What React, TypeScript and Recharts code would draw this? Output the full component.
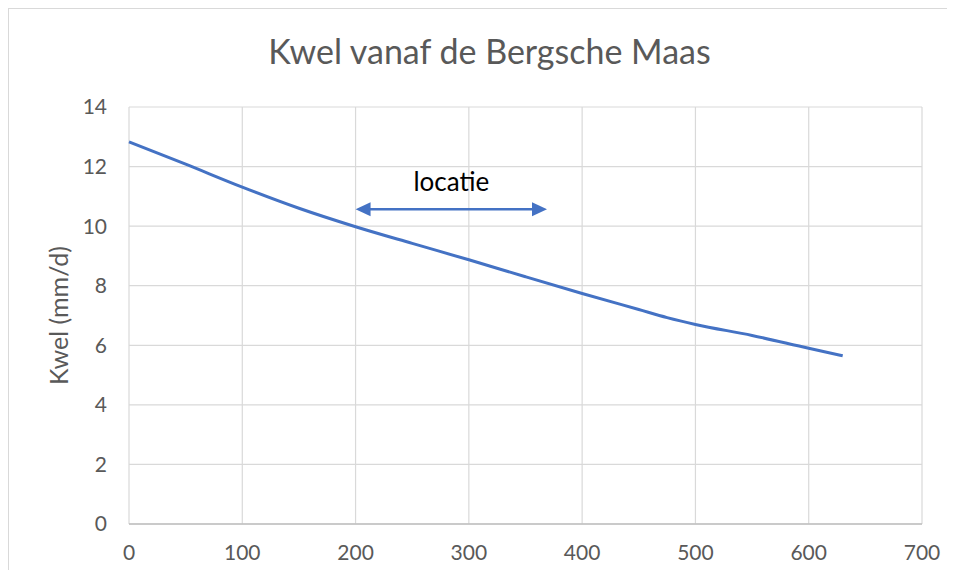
import { CartesianGrid, Line, LineChart, ReferenceLine, XAxis, YAxis } from "recharts";

// afstand vanaf de Bergsche Maas (m) en kwel (mm/d)
const distance = [0, 50, 100, 150, 200, 250, 300, 350, 400, 450, 475, 500, 550, 600, 630];
const seepage = [12.83, 12.08, 11.31, 10.6, 9.98, 9.42, 8.87, 8.3, 7.74, 7.2, 6.93, 6.7, 6.33, 5.9, 5.65];

const xTicks = [0, 100, 200, 300, 400, 500, 600, 700];
const yTicks = [0, 2, 4, 6, 8, 10, 12, 14];

const arrowFrom = 200;
const arrowTo = 369;
const arrowLevel = 10.57;

const data = distance.map((x, i) => ({ x, kwel: seepage[i] }));

const BLUE = "#4472C4";
const FONT = "Lato, 'Open Sans', sans-serif";
const tickStyle = { fontSize: 21, fill: "#595959", fontFamily: FONT };

function LocationArrow(props: any) {
  const { x1, y1, x2 } = props;
  const head = 15;
  const half = 7;
  return (
    <g>
      <line x1={x1 + head - 2} y1={y1} x2={x2 - head + 2} y2={y1} stroke={BLUE} strokeWidth={2.5} />
      <polygon points={`${x1},${y1} ${x1 + head},${y1 - half} ${x1 + head},${y1 + half}`} fill={BLUE} />
      <polygon points={`${x2},${y1} ${x2 - head},${y1 - half} ${x2 - head},${y1 + half}`} fill={BLUE} />
      <text
        x={(x1 + x2) / 2}
        y={y1 - 18}
        textAnchor="middle"
        fontSize={26}
        fontFamily={FONT}
        fill="#000"
      >
        locatie
      </text>
    </g>
  );
}

function YLabel(props: any) {
  const { viewBox } = props;
  const cx = viewBox.x + 50;
  const cy = viewBox.y + viewBox.height / 2;
  return (
    <text
      x={cx}
      y={cy}
      transform={`rotate(-90, ${cx}, ${cy})`}
      textAnchor="middle"
      dominantBaseline="central"
      fontSize={25}
      fontFamily={FONT}
      fill="#595959"
    >
      Kwel (mm/d)
    </text>
  );
}

export default function App() {
  return (
    <div style={{ position: "relative", width: 947, height: 562 }}>
      <div
        style={{
          position: "absolute",
          left: -1,
          top: -1,
          right: 0,
          bottom: 0,
          borderLeft: "2px solid #d9d9d9",
          borderTop: "2px solid #d9d9d9",
        }}
      />
      <div
        style={{
          position: "absolute",
          top: 22,
          left: 0,
          width: 947,
          textAlign: "center",
          fontFamily: FONT,
          fontSize: 34,
          color: "#595959",
          transform: "translateX(8px)",
        }}
      >
        Kwel vanaf de Bergsche Maas
      </div>
      <LineChart
        width={947}
        height={562}
        data={data}
        margin={{ top: 99, right: 33, left: 0, bottom: 16 }}
        style={{ position: "absolute", left: 0, top: 0 }}
      >
        <CartesianGrid stroke="#d9d9d9" strokeWidth={1.2} />
        <XAxis
          dataKey="x"
          type="number"
          domain={[0, 700]}
          ticks={xTicks}
          tickLine={false}
          tickSize={0}
          tickMargin={21}
          height={30}
          axisLine={{ stroke: "#bfbfbf", strokeWidth: 1.5 }}
          tick={tickStyle}
        />
        <YAxis
          type="number"
          domain={[0, 14]}
          ticks={yTicks}
          width={121}
          axisLine={false}
          tickLine={false}
          tickSize={0}
          tickMargin={22}
          tick={tickStyle}
          label={<YLabel />}
        />
        <ReferenceLine
          segment={[
            { x: arrowFrom, y: arrowLevel },
            { x: arrowTo, y: arrowLevel },
          ]}
          shape={LocationArrow}
        />
        <Line
          type="monotone"
          dataKey="kwel"
          stroke={BLUE}
          strokeWidth={3}
          dot={false}
          activeDot={false}
          isAnimationActive={false}
        />
      </LineChart>
    </div>
  );
}
